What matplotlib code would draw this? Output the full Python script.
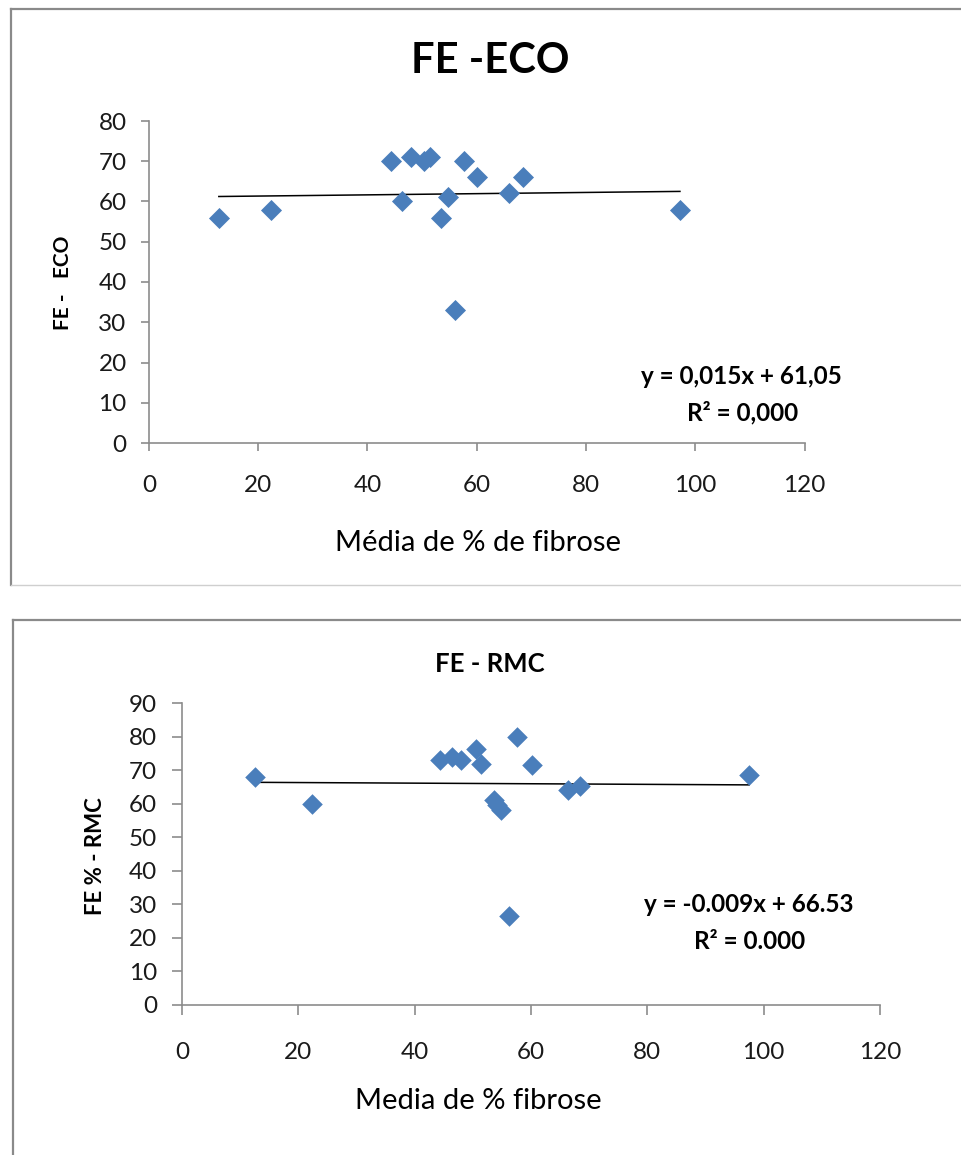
import matplotlib
matplotlib.use("Agg")
import matplotlib.pyplot as plt
from matplotlib.lines import Line2D

plt.rcParams['font.family'] = ['Lato', 'DejaVu Sans']

# dados - FE ECO
fibrose_eco = [12.8, 22.4, 44.4, 46.4, 47.9, 50.3, 51.4, 53.4, 54.7, 56.1, 57.6, 60.0, 65.9, 68.4, 97.2]
fe_eco = [56, 58, 70, 60, 71, 70, 71, 56, 61, 33, 70, 66, 62, 66, 58]
eco_slope, eco_intercept = 0.015, 61.05

# dados - FE RMC
fibrose_rmc = [12.6, 22.3, 44.3, 46.5, 48.0, 50.6, 51.4, 53.6, 54.1, 54.8, 56.3, 57.6, 60.2, 66.4, 68.4, 97.5]
fe_rmc = [68.0, 60.0, 73.0, 74.0, 73.0, 76.5, 72.0, 61.0, 59.5, 58.0, 26.5, 80.0, 71.5, 64.0, 65.2, 68.6]
rmc_slope, rmc_intercept = -0.009, 66.53

W, H = 961, 1155
BLUE = '#4A7EBB'
GRAY = '#8C8C8C'


def fx(px):
    return px / W


def fy(py):
    return 1 - py / H


def frame(fig, left, top, bottom=None):
    fig.add_artist(Line2D([fx(left), fx(W)], [fy(top), fy(top)], color='#8A8A8A', lw=1.6))
    yb = fy(bottom) if bottom is not None else 0
    fig.add_artist(Line2D([fx(left), fx(left)], [yb, fy(top)], color='#8A8A8A', lw=1.6))
    if bottom is not None:
        fig.add_artist(Line2D([fx(left), fx(W)], [fy(bottom), fy(bottom)], color='#CFCFCF', lw=1))


def style_axes(ax, ymax, ystep, tick_len, xpad, ypad):
    ax.set_xlim(0, 120)
    ax.set_ylim(0, ymax)
    ax.set_xticks(range(0, 121, 20))
    ax.set_yticks(range(0, ymax + 1, ystep))
    for s in ['top', 'right']:
        ax.spines[s].set_visible(False)
    for s in ['left', 'bottom']:
        ax.spines[s].set_color(GRAY)
        ax.spines[s].set_linewidth(1.2)
    ax.spines['left'].set_bounds(0, ymax)
    ax.tick_params(axis='both', colors=GRAY, labelcolor='#1a1a1a', labelsize=17.5,
                   length=tick_len, width=1.2, direction='out')
    ax.tick_params(axis='x', pad=xpad)
    ax.tick_params(axis='y', pad=ypad)


fig = plt.figure(figsize=(W / 100, H / 100), dpi=100)

frame(fig, 11, 9, 585)
frame(fig, 13, 620)

# grafico 1
ax1 = fig.add_axes([fx(148.9), fy(443), (804.5 - 148.9) / W, (443 - 121) / H])
ax1.scatter(fibrose_eco, fe_eco, marker='D', s=115, color=BLUE, zorder=3, linewidths=0)
x0, x1 = min(fibrose_eco), max(fibrose_eco)
ax1.plot([x0, x1], [eco_slope * x0 + eco_intercept, eco_slope * x1 + eco_intercept],
         color='black', lw=1.1, zorder=2)
style_axes(ax1, 80, 10, 6, 17, 10)
ax1.text(0.903, 0.205, 'y = 0,015x + 61,05', transform=ax1.transAxes, ha='center', va='center',
         fontsize=17.5, fontweight='bold')
ax1.text(0.906, 0.093, 'R² = 0,000', transform=ax1.transAxes, ha='center', va='center',
         fontsize=17.5, fontweight='bold')

fig.text(fx(490), fy(61), 'FE -ECO', ha='center', va='center', fontsize=30, fontweight='bold')
fig.text(fx(63), fy(283), 'FE -   ECO', ha='center', va='center', rotation=90,
         fontsize=15, fontweight='bold')
fig.text(fx(478), fy(543), 'Média de % de fibrose', ha='center', va='center', fontsize=21)

# grafico 2
ax2 = fig.add_axes([fx(182), fy(1004.6), (880 - 182) / W, (1004.6 - 703.4) / H])
ax2.scatter(fibrose_rmc, fe_rmc, marker='D', s=110, color=BLUE, zorder=3, linewidths=0)
x0, x1 = min(fibrose_rmc), max(fibrose_rmc)
ax2.plot([x0, x1], [rmc_slope * x0 + rmc_intercept, rmc_slope * x1 + rmc_intercept],
         color='black', lw=1.1, zorder=2)
style_axes(ax2, 90, 10, 7, 20, 11)
ax2.text(0.812, 0.331, 'y = -0.009x + 66.53', transform=ax2.transAxes, ha='center', va='center',
         fontsize=17.5, fontweight='bold')
ax2.text(0.813, 0.210, 'R² = 0.000', transform=ax2.transAxes, ha='center', va='center',
         fontsize=17.5, fontweight='bold')

fig.text(fx(490), fy(664), 'FE - RMC', ha='center', va='center', fontsize=18.5, fontweight='bold')
fig.text(fx(96), fy(856), 'FE % - RMC', ha='center', va='center', rotation=90,
         fontsize=16, fontweight='bold')
fig.text(fx(478), fy(1101), 'Media de % fibrose', ha='center', va='center', fontsize=21)

fig.savefig('out.png', dpi=100)
